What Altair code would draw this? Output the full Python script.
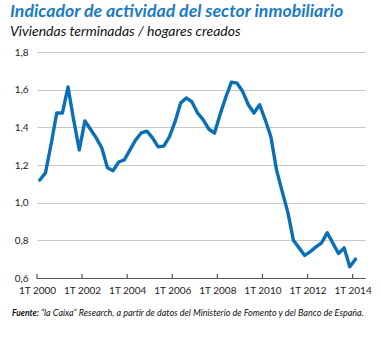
import altair as alt
import pandas as pd

years = list(range(2000, 2015))
values = [
    1.12, 1.158, 1.31, 1.476,
    1.476, 1.614, 1.44, 1.28,
    1.434, 1.39, 1.344, 1.29,
    1.185, 1.17, 1.216, 1.227,
    1.28, 1.333, 1.37, 1.38,
    1.344, 1.296, 1.30, 1.35,
    1.43, 1.53, 1.556, 1.535,
    1.476, 1.44, 1.39, 1.37,
    1.47, 1.56, 1.64, 1.635,
    1.59, 1.52, 1.476, 1.52,
    1.44, 1.35, 1.174, 1.06,
    0.95, 0.80, 0.76, 0.72,
    0.74, 0.765, 0.787, 0.84,
    0.785, 0.73, 0.76, 0.66,
    0.70,
]
tick_years = [2000, 2002, 2004, 2006, 2008, 2010, 2012, 2014]
y_ticks = [0.6, 0.8, 1.0, 1.2, 1.4, 1.6, 1.8]

title = "Indicador de actividad del sector inmobiliario"
subtitle = "Viviendas terminadas / hogares creados"
source_bold = "Fuente:"
source_rest = "\u201cla Caixa\u201d Research, a partir de datos del Ministerio de Fomento y del Banco de Espa\u00f1a."

rows = []
for i, v in enumerate(values):
    y = years[0] + i // 4
    q = i % 4
    rows.append({"t": y + q / 4 + 0.125, "v": v})
df = pd.DataFrame(rows)
ticks_df = pd.DataFrame({"t": tick_years})

BLUE = "#0b6fb8"
FONT = "Lato"

W, H = 328, 226
xscale = alt.Scale(domain=[2000, 2014.55], nice=False, zero=False)

line = alt.Chart(df).mark_line(color=BLUE, strokeWidth=3.4, strokeJoin="round", strokeCap="round").encode(
    x=alt.X("t:Q", scale=xscale,
            axis=alt.Axis(values=tick_years, title=None, grid=False,
                          labelExpr="'1T ' + format(datum.value, 'd')",
                          domainColor="#555555", domainWidth=1.2,
                          ticks=False,
                          labelFont=FONT, labelFontSize=10, labelColor="#222222",
                          labelPadding=7, labelFlush=False)),
    y=alt.Y("v:Q",
            scale=alt.Scale(domain=[0.6, 1.8], nice=False, zero=False),
            axis=alt.Axis(values=y_ticks, title=None, domain=False, ticks=False,
                          labelExpr="replace(format(datum.value, '.1f'), '.', ',')",
                          gridColor="#c8c8c8", gridWidth=1,
                          labelFont=FONT, labelFontSize=10, labelColor="#222222",
                          labelPadding=9)),
)

tick_marks = alt.Chart(ticks_df).mark_rule(color="#555555", strokeWidth=1.2).encode(
    x=alt.X("t:Q", scale=xscale),
    y=alt.value(H - 4), y2=alt.value(H + 1),
)

title_df = pd.DataFrame({"txt": [title]})
t1 = alt.Chart(title_df).mark_text(align="left", baseline="alphabetic", font=FONT, fontSize=17.7,
                                   fontWeight="bold", fontStyle="italic", color="#1c7bc4").encode(
    x=alt.value(-27), y=alt.value(-35), text="txt:N")
sub_df = pd.DataFrame({"txt": [subtitle]})
t2 = alt.Chart(sub_df).mark_text(align="left", baseline="alphabetic", font=FONT, fontSize=14,
                                 fontStyle="italic", color="#111111").encode(
    x=alt.value(-27), y=alt.value(-16), text="txt:N")
sb_df = pd.DataFrame({"txt": [source_bold]})
t3 = alt.Chart(sb_df).mark_text(align="left", baseline="alphabetic", font=FONT, fontSize=8.5,
                                fontWeight="bold", fontStyle="italic", color="#111111").encode(
    x=alt.value(-25), y=alt.value(264), text="txt:N")
sr_df = pd.DataFrame({"txt": [source_rest]})
t4 = alt.Chart(sr_df).mark_text(align="left", baseline="alphabetic", font=FONT, fontSize=9,
                                fontStyle="italic", color="#111111").encode(
    x=alt.value(4), y=alt.value(264), text="txt:N")

chart = alt.layer(line, tick_marks, t1, t2, t3, t4).properties(
    width=W, height=H,
    autosize=alt.AutoSizeParams(type="none"),
    padding={"left": 37, "top": 52, "right": 16, "bottom": 60},
    background="white",
).configure_view(stroke=None)

chart.save("out.html", embed_options={"renderer": "svg", "actions": False})
